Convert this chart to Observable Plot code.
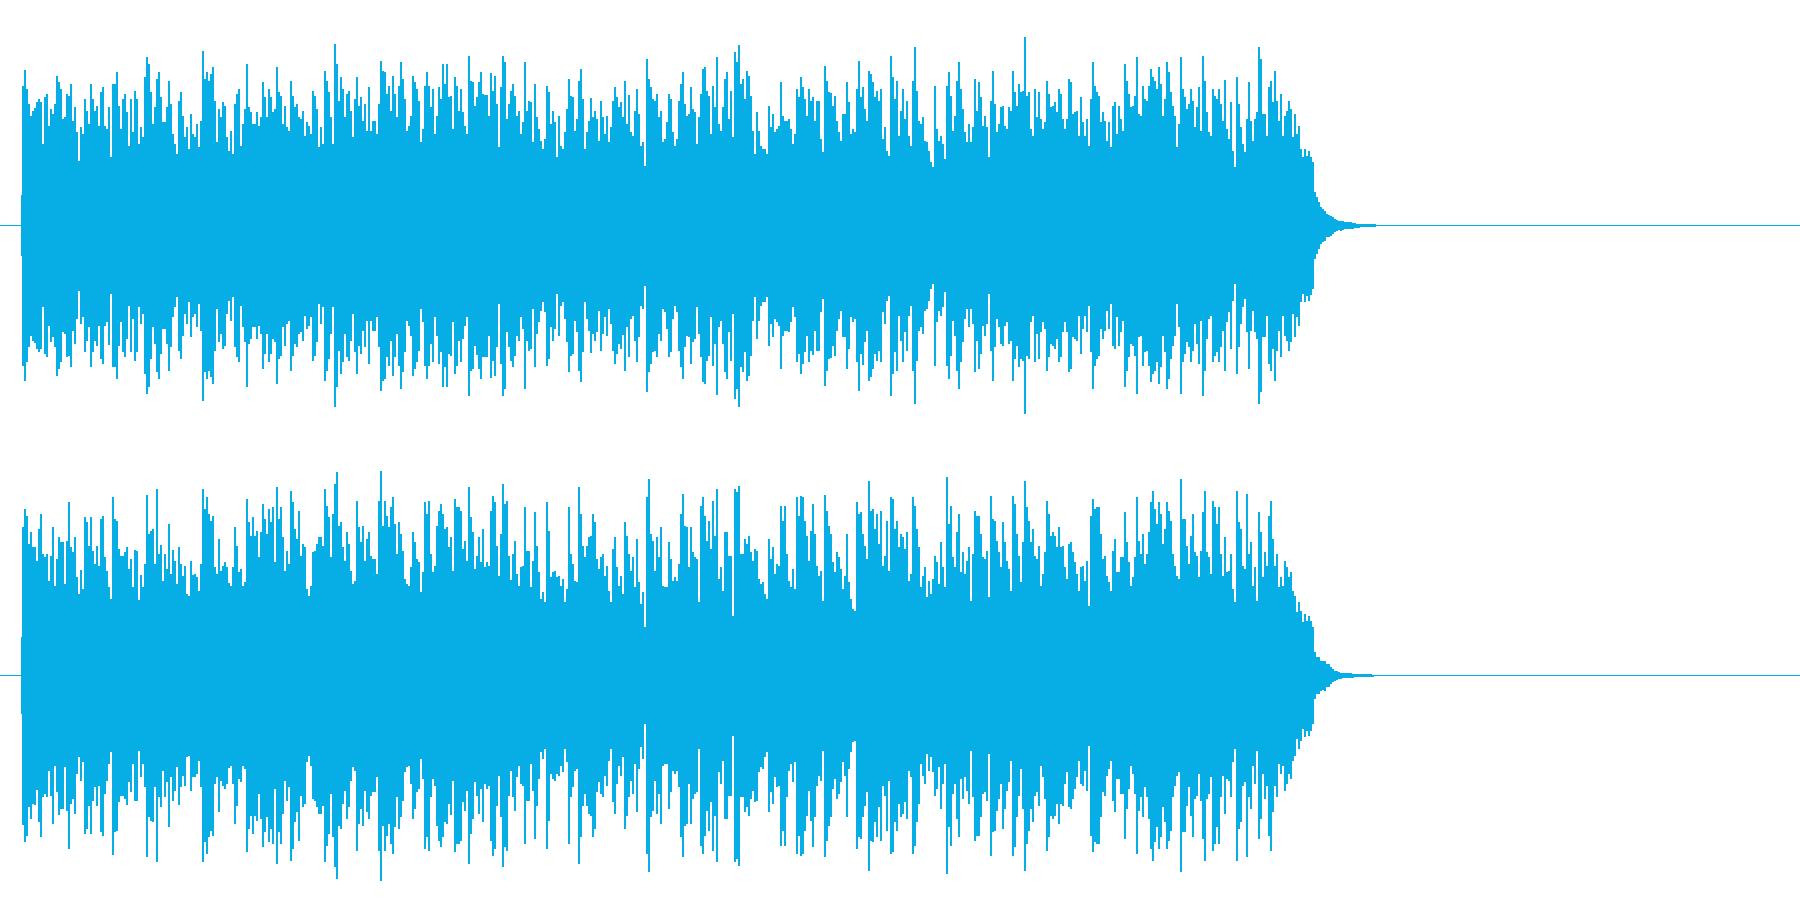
<!DOCTYPE html>
<html>
<head>
<meta charset="utf-8">
<script src="https://cdn.jsdelivr.net/npm/d3@7"></script>
<script src="https://cdn.jsdelivr.net/npm/@observablehq/plot@0.6"></script>
<style>
html,body{margin:0;padding:0;background:#fff;overflow:hidden}
svg{display:block}
</style>
</head>
<body>
<div id="chart"></div>
<script>
// Peak levels (symmetric waveform envelope); one reading per two columns.
const leftA = [420,467,410,365,330,345,353,370,380,370,245,385,395,300,350,335,365,450,430,410,320,325,395,390,425,315,355,280,195,295,275,380,345,305,425,380,345,360,300,400,415,300,290,357,205,425,425,460,360,290,380,395,340,240,380,280,405,380,245,295,265,445,505,485,400,305,355,440,460,385,310,310,355,435,365,275,245,215,375,400,330,265,295,230,335,275,265,305,235,315,525,440,460,435,455,475,375,250,350,325,370,360,265,225,285,215,365,395,410,240,305,350,485,355,340,305,305,340,300,325,430,385,325,410,385,340,350,475,400,390,305,360,295,285,435,390,355,365,325,320,345,270,310,300,275,405,390,350,235,295,245,465,435,400,325,245,545,485,375,445,410,325,395,405,345,265,380,445,360,385,315,365,285,415,285,315,315,275,365,495,465,460,395,420,345,450,395,325,420,490,440,380,285,300,330,450,430,410,375,250,290,420,460,420,355,410,275,330,415,380,485,425,485,385];
const leftB = [390,290,445,420,345,410,340,300,275,510,435,430,360,387,430,460,395,393,393,330,458,405,450,365,235,415,510,490,320,365,405,425,390,330,345,275,310,490,345,375,370,250,425,325,290,255,230,260,420,400,305,345,310,205,330,240,230,280,350,440,390,385,285,320,435,470,380,230,280,315,383,325,345,320,255,375,325,275,330,250,295,375,415,385,355,370,327,435,305,393,280,270,345,410,335,240,250,180,500,440,415,380,375,395,325,345,250,260,310,395,380,280,240,260,375,425,460,365,330,335,415,350,340,245,325,395,470,475,405,390,275,420,355,507,305,285,355,440,460,320,405,265,520,490,543,425,440,380,465,450,390,285,215,340,285,240,230,230,215,360,295,335,280,290,300,430,330,315,315,320,290,245,275,410,385];
const leftC = [445,415,380,330,410,375,387,315,375,375,260,220,480,435,400,397,360,390,315,280,255,335,335,430,370,275,290,280,410,495,385,417,350,315,465,455,430,385,405,375,410,260,295,225,210,510,445,380,435,270,345,410,320,375,270,240,435,535,405,315,305,325,255,250,225,190,175,420,290,255,270,245,200,420,460,390,285,330,435,490,410,350,280,250,305,250,295,440,345,430,385,300,330,295,205,375,465,365,280,305,355,360,300,290,355,345,465,400,360,425,400,405,565,390,400,290,270,410,325,400,320,290,310,435,395,355,360,370,340,410,395,320,290,320,440,430,335,340,345,270,385,310,270,320,240,380,490,420,400,390,310,340,315,255,310,235,360,370,275,360,320,285,485,435,395,355,360,390,505,335,330,420,380,375,420];
const leftD = [470,445,435,410,475,425,330,380,490,460,400,360,330,235,305,505,410,385,350,365,410,375,295,355,415,285,510,435,340,280,270,410,390,380,410,365,315,437,290,260,370,225,175,445,365,295,245,220,320,430,315,255,320,340,535,500,335,335,270,415,435,370,465,375,315,395,270,330,345,375,350,265,335,275,300,230,205,230,210,225,207,190,100,85,70,55,50,45,35,33,30,25,20,17,13,15,13,11,11,10,11,9,7,6,6,4,4,4,4,4,4,4,4];

const rightA = [447,500,480,395,430,385,387,343,440,485,365,355,365,285,360,445,270,350,417,400,400,275,405,520,385,370,415,295,245,317,260,475,460,390,475,375,335,390,330,470,480,355,315,265,230,537,470,465,380,360,360,370,387,320,350,265,377,375,227,303,265,335,543,425,435,440,335,560,365,393,285,365,320,455,305,377,345,275,387,335,300,330,245,240,345,303,305,295,255,335,560,500,535,485,465,480,325,305,410,315,330,340,325,277,270,325,445,390,310,320,270,280,530,460,420,475,420,435,355,430,515,470,425,500,460,505,340,565,470,505,415,315,375,335,555,520,440,410,495,360,395,385,260,240,270,370,375,395,415,415,390,560,510,475,355,485,575,610,450,460,385,345,430,395,315,275,285,525,445,400,450,345,410,430,360,350,350,305,525,615,450,525,480,445,505,535,455,365,460,425,375,290,275,270,325,430,400,350,340,250,310,520,485,525,365,310,330,450,495,515,485,440,445,385];
const rightB = [417,315,530,505,505,495,380,405,345,565,475,430,320,360,415,340,440,325,340,330,495,540,520,390,300,425,575,515,525,360,287,365,405,305,270,325,330,505,375,375,265,345,490,390,310,230,250,220,520,435,295,310,315,295,300,270,290,220,260,505,365,335,285,280,565,485,390,355,390,415,420,485,460,350,320,355,365,300,330,255,220,380,415,325,270,300,245,460,420,365,315,355,265,410,280,215,250,145,535,590,425,405,315,415,355,445,270,265,265,400,350,285,295,285,335,485,545,450,445,325,445,370,355,350,220,510,535,480,405,465,380,525,420,560,290,325,255,430,430,360,360,180,560,550,570,365,365,410,395,420,370,345,380,375,290,275,280,245,230,410,350,385,305,335,330,510,465,510,365,285,265,320,260,535,480];
const rightC = [540,535,465,420,345,435,515,425,330,300,315,225,543,495,450,425,340,310,370,355,320,260,300,425,280,230,200,195,520,485,490,425,390,350,585,495,500,440,485,395,495,330,360,465,315,535,530,440,465,385,425,415,380,430,285,305,535,510,440,385,265,300,325,235,285,245,290,360,340,275,400,325,265,595,455,510,355,325,430,485,310,370,305,345,385,225,365,495,480,480,425,355,350,375,235,540,470,465,405,370,325,460,400,345,320,255,540,515,425,360,280,400,585,505,465,400,440,360,350,390,270,305,370,525,485,420,430,420,385,445,385,390,325,290,395,400,370,340,305,255,325,330,285,345,210,480,530,500,505,505,425,350,360,300,280,255,375,410,310,310,355,355,490,400,340,270,295,355,535,405,365,425,335,365,430];
const rightD = [520,555,500,455,520,485,395,440,520,495,465,365,330,300,290,590,470,470,390,335,420,485,370,360,295,375,490,555,370,355,305,525,505,455,505,365,300,415,310,315,365,260,220,555,460,440,330,320,545,365,400,270,325,225,490,430,295,370,330,480,525,410,330,365,265,295,270,345,325,295,310,255,240,190,220,195,160,185,165,180,165,145,70,55,55,45,43,45,35,35,25,20,15,13,10,9,8,7,7,7,7,6,4,4,4,4,4,4,4,4,4,3];

const leftOnset = 91;
const rightOnset = 115;
const segmentStarts = [22, 450, 800, 1150];
const columnStep = 2;

const waveColor = "#07aee6";
const host = document.getElementById("chart");

function columns(onset, segments) {
  const out = [{x1: 21, x2: 22, level: onset}];
  segments.forEach((seg, s) => seg.forEach((level, i) => {
    const x1 = segmentStarts[s] + i * columnStep;
    out.push({x1, x2: x1 + columnStep, level});
  }));
  return out;
}

function channel(onset, segments) {
  return Plot.plot({
    width: 1800,
    height: 450,
    margin: 0,
    style: {background: "#fff"},
    x: {domain: [0, 1800], range: [0, 1800], axis: null},
    y: {domain: [-675, 675], range: [450.5, 0.5], axis: null},
    marks: [
      Plot.ruleY([0], {stroke: waveColor, strokeWidth: 1, dy: -0.5}),
      Plot.rect(columns(onset, segments), {
        x1: "x1", x2: "x2",
        y1: d => -d.level, y2: d => d.level,
        fill: waveColor, shapeRendering: "crispEdges"
      })
    ]
  });
}

host.append(channel(leftOnset, [leftA, leftB, leftC, leftD]));
host.append(channel(rightOnset, [rightA, rightB, rightC, rightD]));
</script>
</body>
</html>
